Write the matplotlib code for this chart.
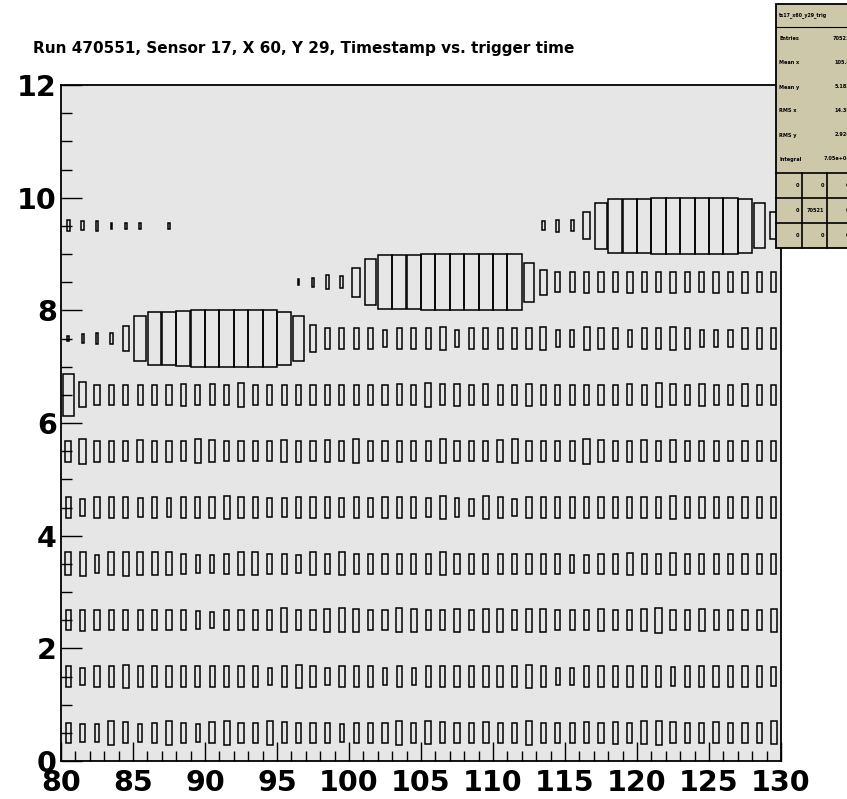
import numpy as np
import matplotlib
matplotlib.use("Agg")
import matplotlib.pyplot as plt
from matplotlib.patches import Rectangle
from matplotlib.lines import Line2D
from matplotlib.ticker import MultipleLocator

plt.rcParams["font.family"] = ["DejaVu Sans"]

W, H = 847, 799

title = "Run 470551, Sensor 17, X 60, Y 29, Timestamp vs. trigger time"

# trigger time bins 80..130, timestamp bins 0..12 (rows 10, 11 empty)
x_edges = np.arange(80, 131)

# bin contents, one list per timestamp row, x = 80 .. 129
row_0 = [100, 80, 75, 140, 105, 75, 100, 140, 100, 75,
         110, 135, 100, 100, 140, 105, 100, 100, 100, 75,
         100, 100, 100, 140, 100,
         130, 110, 100, 100, 110, 100, 100, 140, 100, 100,
         100, 110, 100, 125, 100, 130, 135, 110, 100, 100,
         110, 100, 100, 100, 130]
row_1 = [100, 75, 100, 100, 140, 100, 100, 100, 100, 100,
         100, 100, 100, 100, 75, 100, 140, 100, 75, 110,
         100, 100, 75, 110, 75,
         100, 100, 100, 100, 110, 110, 100, 135, 110, 75,
         75, 110, 100, 100, 110, 100, 100, 80, 100, 100,
         110, 100, 105, 110, 80]
row_2 = [100, 110, 100, 100, 100, 100, 100, 100, 100, 75,
         60, 100, 100, 100, 100, 135, 100, 100, 130, 135,
         130, 100, 100, 135, 130,
         100, 100, 130, 100, 130, 130, 100, 130, 130, 100,
         100, 100, 125, 100, 100, 125, 150, 100, 100, 125,
         100, 100, 100, 100, 130]
row_3 = [130, 135, 75, 130, 135, 130, 130, 130, 100, 75,
         75, 100, 130, 130, 100, 100, 75, 130, 100, 130,
         100, 100, 100, 100, 100,
         100, 130, 100, 100, 100, 100, 100, 100, 100, 100,
         75, 75, 100, 100, 125, 100, 100, 125, 100, 100,
         100, 100, 100, 100, 100]
row_4 = [100, 75, 110, 100, 100, 80, 100, 80, 100, 100,
         110, 135, 100, 100, 80, 80, 100, 100, 100, 80,
         100, 80, 100, 100, 100,
         80, 135, 80, 75, 130, 100, 75, 100, 100, 100,
         100, 100, 100, 115, 100, 115, 100, 135, 100, 115,
         100, 115, 100, 100, 100]
row_5 = [110, 150, 105, 105, 100, 120, 105, 110, 100, 140,
         115, 100, 100, 100, 100, 120, 105, 100, 125, 100,
         135, 100, 100, 110, 100,
         100, 135, 100, 100, 100, 115, 140, 100, 100, 100,
         100, 150, 115, 100, 105, 115, 100, 120, 100, 100,
         100, 100, 100, 100, 100]
row_6 = [440, 150, 100, 100, 100, 100, 100, 100, 120, 100,
         105, 100, 140, 100, 100, 100, 100, 100, 100, 100,
         100, 100, 100, 105, 100,
         140, 105, 115, 100, 105, 100, 100, 115, 100, 100,
         100, 100, 100, 100, 105, 100, 140, 110, 100, 115,
         100, 100, 115, 100, 100]
row_7 = [8, 18, 30, 35, 160, 500, 680, 680, 750, 780,
         780, 780, 780, 780, 780, 680, 500, 170, 105, 100,
         100, 100, 75, 100, 100,
         100, 135, 75, 100, 100, 100, 100, 100, 135, 75,
         75, 135, 105, 100, 75, 100, 100, 130, 100, 75,
         75, 75, 100, 100, 100]
row_8 = [0, 0, 0, 0, 0, 0, 0, 0, 0, 0,
         0, 0, 0, 0, 0, 0, 8, 20, 45, 35,
         210, 520, 720, 720, 720,
         780, 780, 780, 780, 780, 780, 780, 380, 150, 100,
         100, 110, 100, 100, 110, 100, 100, 110, 100, 100,
         110, 100, 105, 100, 100]
row_9 = [30, 20, 23, 8, 8, 8, 0, 8, 0, 0,
         0, 0, 0, 0, 0, 0, 0, 0, 0, 0,
         0, 0, 0, 0, 0,
         0, 0, 0, 0, 0, 0, 0, 0, 20, 35,
         30, 175, 520, 720, 720, 720, 780, 780, 780, 780,
         780, 780, 720, 500, 175]

rows = [row_0, row_1, row_2, row_3, row_4, row_5, row_6, row_7, row_8, row_9]
counts = np.array(rows, dtype=float)

stat_labels = ["Entries", "Mean x", "Mean y", "RMS x", "RMS y", "Integral"]
stat_values = ["70521", "105.8", "5.183", "14.38", "2.926", "7.05e+04"]
overflow_cells = [["0", "0", "0"], ["0", "70521", "0"], ["0", "0", "0"]]

fig = plt.figure(figsize=(W / 100, H / 100), dpi=100)
fig.patch.set_facecolor("white")
ax = fig.add_axes([61 / W, 1 - 761 / H, 720 / W, 676 / H])
ax.set_facecolor("#e6e6e6")

# box option: box side ~ sqrt(content / max)
zmax = counts.max()
x_centers = x_edges[:-1] + 0.5
for j, row in enumerate(counts):
    keep = row > 0
    r = np.sqrt(row[keep] / zmax)
    ax.bar(x_centers[keep], r, width=r, bottom=j + 0.5 - r / 2, align="center",
           fill=False, edgecolor="black", linewidth=1.1, zorder=2)

ax.set_xlim(80, 130)
ax.set_ylim(0, 12)
ax.xaxis.set_major_locator(MultipleLocator(5))
ax.xaxis.set_minor_locator(MultipleLocator(1))
ax.yaxis.set_major_locator(MultipleLocator(2))
ax.yaxis.set_minor_locator(MultipleLocator(0.5))
ax.tick_params(axis="x", which="major", direction="in", length=13.5, width=1.0, pad=6, labelsize=20.5)
ax.tick_params(axis="x", which="minor", direction="in", length=7.5, width=1.0)
ax.tick_params(axis="y", which="major", direction="in", length=15, width=1.0, pad=3, labelsize=20.5)
ax.tick_params(axis="y", which="minor", direction="in", length=8, width=1.0)
ax.tick_params(top=False, right=False, which="both")
for lab in ax.get_xticklabels() + ax.get_yticklabels():
    lab.set_fontweight("bold")
for sp in ax.spines.values():
    sp.set_linewidth(1.3)

fig.text(33 / W, 1 - 48 / H, title, fontsize=11, fontweight="bold", ha="left", va="center")


def fx(px):
    return px / W


def fy(py):
    return 1 - py / H


# statistics box, cut off by the right edge of the canvas
beige = "#cdc8aa"
left, top, bottom = 776, 4, 248
fig.patches.append(Rectangle((fx(left), fy(bottom)), fx(120), (bottom - top) / H,
                             transform=fig.transFigure, facecolor=beige,
                             edgecolor="black", linewidth=1.3, zorder=5))
for py in [27, 173, 198, 223]:
    fig.add_artist(Line2D([fx(left), fx(900)], [fy(py), fy(py)], color="black",
                          linewidth=1.2 if py != 27 else 0.8, zorder=6))
for px in [801.7, 826.7]:
    fig.add_artist(Line2D([fx(px), fx(px)], [fy(173), fy(bottom)], color="black",
                          linewidth=1.2, zorder=6))

fig.text(fx(779), fy(15), "ts17_x60_y29_trig", fontsize=3.4, fontweight="bold",
         ha="left", va="center", zorder=7)
for i, (lab, val) in enumerate(zip(stat_labels, stat_values)):
    py = 39 + i * 24
    fig.text(fx(779), fy(py), lab, fontsize=3.6, fontweight="bold", ha="left", va="center", zorder=7)
    fig.text(fx(850), fy(py), val, fontsize=3.6, fontweight="bold", ha="right", va="center", zorder=7)
for r_i, cells in enumerate(overflow_cells):
    py = 185.5 + r_i * 25
    for c_i, txt in enumerate(cells):
        px = 799 + c_i * 25
        fig.text(fx(px), fy(py), txt, fontsize=3.6, fontweight="bold", ha="right", va="center", zorder=7)

fig.savefig("out.png", dpi=100)
